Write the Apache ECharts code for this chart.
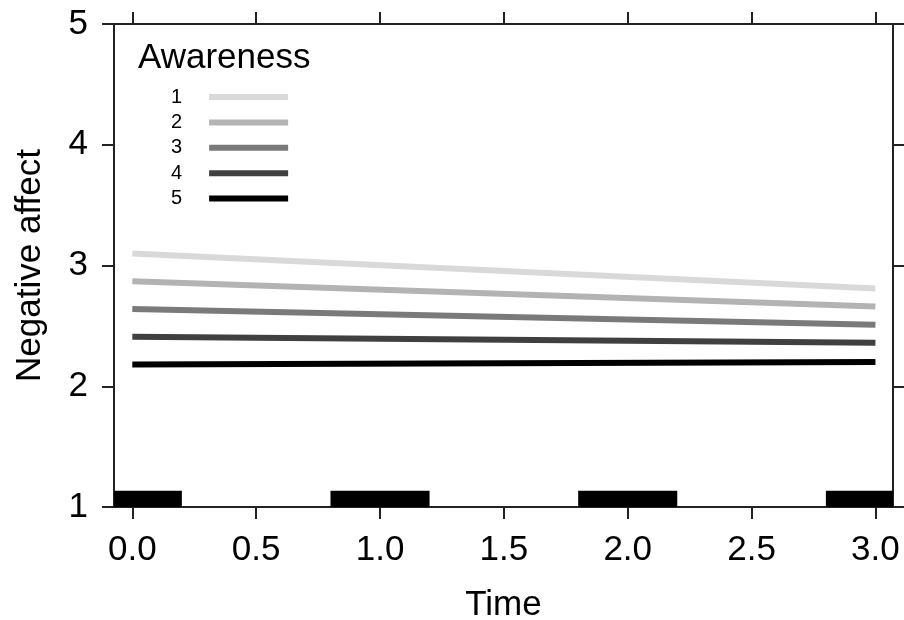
<!DOCTYPE html>
<html>
<head>
<meta charset="utf-8">
<script src="https://cdn.jsdelivr.net/npm/echarts@6/dist/echarts.min.js"></script>
<style>
html,body{margin:0;padding:0;background:#fff;}
#chart{width:904px;height:620px;}
</style>
</head>
<body>
<div id="chart"></div>
<script>
// ---- data ----
var times = [0, 3];
var awarenessLevels = ['1', '2', '3', '4', '5'];
var affect1 = [3.10, 2.81];
var affect2 = [2.87, 2.66];
var affect3 = [2.64, 2.51];
var affect4 = [2.41, 2.36];
var affect5 = [2.18, 2.20];
var xTickValues = [0, 0.5, 1, 1.5, 2, 2.5, 3];
var yTickValues = [1, 2, 3, 4, 5];
var rugTimes = [0, 1, 2, 3];
var rugHalfWidth = 0.2;
var rugTop = 1.135;

var seriesValues = [affect1, affect2, affect3, affect4, affect5];
var lineColors = ['#d9d9d9', '#b3b3b3', '#7a7a7a', '#404040', '#000000'];
var FONT = 'Liberation Sans, Arial, sans-serif';
var AXC = '#222';

var chart = echarts.init(document.getElementById('chart'));

var lineSeries = awarenessLevels.map(function (name, i) {
  return {
    name: name,
    type: 'line',
    xAxisIndex: 0,
    yAxisIndex: 0,
    data: times.map(function (t, j) { return [t, seriesValues[i][j]]; }),
    showSymbol: false,
    symbol: 'none',
    color: lineColors[i],
    lineStyle: { width: 6, color: lineColors[i], cap: 'butt' },
    itemStyle: { color: lineColors[i] },
    silent: true,
    z: 3
  };
});

var rugSeries = {
  type: 'custom',
  xAxisIndex: 0,
  yAxisIndex: 0,
  data: rugTimes.map(function (t) { return [t, rugTop]; }),
  clip: true,
  renderItem: function (params, api) {
    var t = api.value(0);
    var top = api.value(1);
    var p1 = api.coord([t - rugHalfWidth, top]);
    var p2 = api.coord([t + rugHalfWidth, 1]);
    var cs = params.coordSys;
    var x1 = Math.max(p1[0], cs.x);
    var x2 = Math.min(p2[0], cs.x + cs.width);
    return {
      type: 'rect',
      shape: { x: x1, y: p1[1], width: x2 - x1, height: p2[1] - p1[1] },
      style: { fill: '#000' }
    };
  },
  silent: true,
  z: 2
};

var xMin = -0.074, xMax = 3.071;

var option = {
  animation: false,
  backgroundColor: '#fff',
  grid: { left: 114, top: 24, right: 11, bottom: 113, containLabel: false, outerBoundsMode: 'none' },
  title: {
    text: 'Awareness',
    left: 133,
    top: 36,
    textStyle: { fontFamily: FONT, fontSize: 35, fontWeight: 'normal', color: '#000' }
  },
  legend: {
    data: awarenessLevels,
    orient: 'vertical',
    left: 166,
    top: 82,
    align: 'right',
    icon: 'rect',
    itemWidth: 79,
    itemHeight: 6,
    itemGap: 5.4,
    selectedMode: false,
    textStyle: { fontFamily: FONT, fontSize: 20, color: '#000', lineHeight: 20, padding: [0, 22, 0, 0] }
  },
  xAxis: [
    {
      type: 'value', position: 'bottom', min: xMin, max: xMax,
      name: 'Time', nameLocation: 'middle', nameGap: 81,
      nameTextStyle: { fontFamily: FONT, fontSize: 35, color: '#000' },
      axisLine: { show: true, onZero: false, lineStyle: { color: AXC, width: 2 } },
      axisTick: { show: true, length: 12, customValues: xTickValues, lineStyle: { color: AXC, width: 2 } },
      axisLabel: {
        show: true, customValues: xTickValues, margin: 26,
        fontFamily: FONT, fontSize: 35, color: '#000',
        formatter: function (v) { return v.toFixed(1); }
      },
      splitLine: { show: false }
    },
    {
      type: 'value', position: 'top', min: xMin, max: xMax,
      axisLine: { show: true, onZero: false, lineStyle: { color: AXC, width: 2 } },
      axisTick: { show: true, length: 12, customValues: xTickValues, lineStyle: { color: AXC, width: 2 } },
      axisLabel: { show: false },
      splitLine: { show: false }
    }
  ],
  yAxis: [
    {
      type: 'value', position: 'left', min: 1, max: 5, interval: 1,
      name: 'Negative affect', nameLocation: 'middle', nameGap: 66, nameRotate: 90,
      nameTextStyle: { fontFamily: FONT, fontSize: 35, color: '#000' },
      axisLine: { show: true, onZero: false, lineStyle: { color: AXC, width: 2 } },
      axisTick: { show: true, length: 12, lineStyle: { color: AXC, width: 2 } },
      axisLabel: { show: true, margin: 26, fontFamily: FONT, fontSize: 35, color: '#000' },
      splitLine: { show: false }
    },
    {
      type: 'value', position: 'right', min: 1, max: 5, interval: 1,
      axisLine: { show: true, onZero: false, lineStyle: { color: AXC, width: 2 } },
      axisTick: { show: true, length: 12, lineStyle: { color: AXC, width: 2 } },
      axisLabel: { show: false },
      splitLine: { show: false }
    }
  ],
  series: lineSeries.concat([rugSeries])
};

chart.setOption(option);
</script>
</body>
</html>
